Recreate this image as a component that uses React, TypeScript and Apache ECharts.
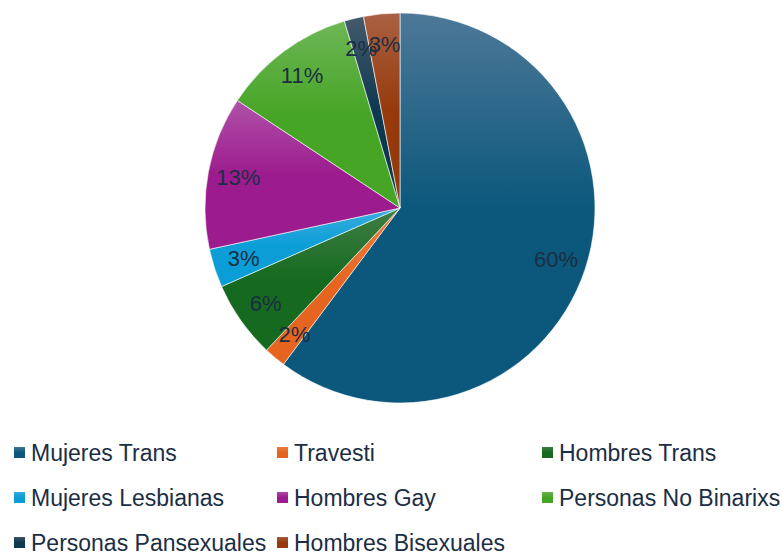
import React, { useEffect, useRef } from "react";
import * as echarts from "echarts";

const categories = [
  "Mujeres Trans",
  "Travesti",
  "Hombres Trans",
  "Mujeres Lesbianas",
  "Hombres Gay",
  "Personas No Binarixs",
  "Personas Pansexuales",
  "Hombres Bisexuales",
];
const values = [60.2, 1.8, 6.4, 3.2, 12.7, 11.1, 1.6, 3.0];
const topColors = ["#4d7898", "#f0803f", "#3f7f46", "#3aaedf", "#b052a8", "#6db656", "#445a6b", "#aa6143"];
const baseColors = ["#0b587c", "#e5641f", "#166a1f", "#0a9dd6", "#9c1b8e", "#47a526", "#0c3850", "#963a0c"];
const legendCols = [
  ["Mujeres Trans", "Mujeres Lesbianas", "Personas Pansexuales"],
  ["Travesti", "Hombres Gay", "Hombres Bisexuales"],
  ["Hombres Trans", "Personas No Binarixs"],
];

export default function App() {
  const ref = useRef<HTMLDivElement>(null);
  useEffect(() => {
    const chart = echarts.init(ref.current!, null, { renderer: "svg" });
    const data = categories.map((name, i) => ({
      name,
      value: values[i],
      itemStyle: {
        color: new echarts.graphic.LinearGradient(0, 0, 0, 1, [
          { offset: 0, color: topColors[i] },
          { offset: 0.5, color: baseColors[i] },
          { offset: 1, color: baseColors[i] },
        ]),
      },
    }));
    const total = values.reduce((a, b) => a + b, 0);
    const legendLefts = [7, 270, 535];
    chart.setOption({
      animation: false,
      legend: legendCols.map((col, i) => ({
        data: col,
        orient: "vertical",
        left: legendLefts[i],
        top: 436,
        height: 140,
        itemWidth: 13,
        itemHeight: 13,
        itemGap: 22,
        icon: "rect",
        selectedMode: false,
        textStyle: {
          fontFamily: "Liberation Sans",
          fontSize: 23,
          lineHeight: 23,
          color: "#1b2e44",
        },
      })),
      series: [
        {
          type: "pie",
          center: [400, 208],
          radius: [0, 195],
          startAngle: 90,
          clockwise: true,
          silent: true,
          label: { show: false },
          labelLine: { show: false },
          itemStyle: { borderColor: "#ffffff", borderWidth: 0.6 },
          data,
        },
        {
          type: "pie",
          center: [400, 208],
          radius: [128, 195],
          startAngle: 90,
          clockwise: true,
          silent: true,
          itemStyle: { color: "rgba(0,0,0,0)" },
          labelLayout: { hideOverlap: false },
          label: {
            show: true,
            position: "inside",
            fontFamily: "Liberation Sans",
            fontSize: 22,
            color: "#1b2e44",
            formatter: (p: any) => Math.round((p.value / total) * 100) + "%",
          },
          labelLine: { show: false },
          data: categories.map((name, i) => ({ name, value: values[i] })),
        },
      ],
    });
    return () => chart.dispose();
  }, []);
  return <div ref={ref} style={{ width: 782, height: 552, position: "absolute", left: 0, top: 0 }} />;
}
